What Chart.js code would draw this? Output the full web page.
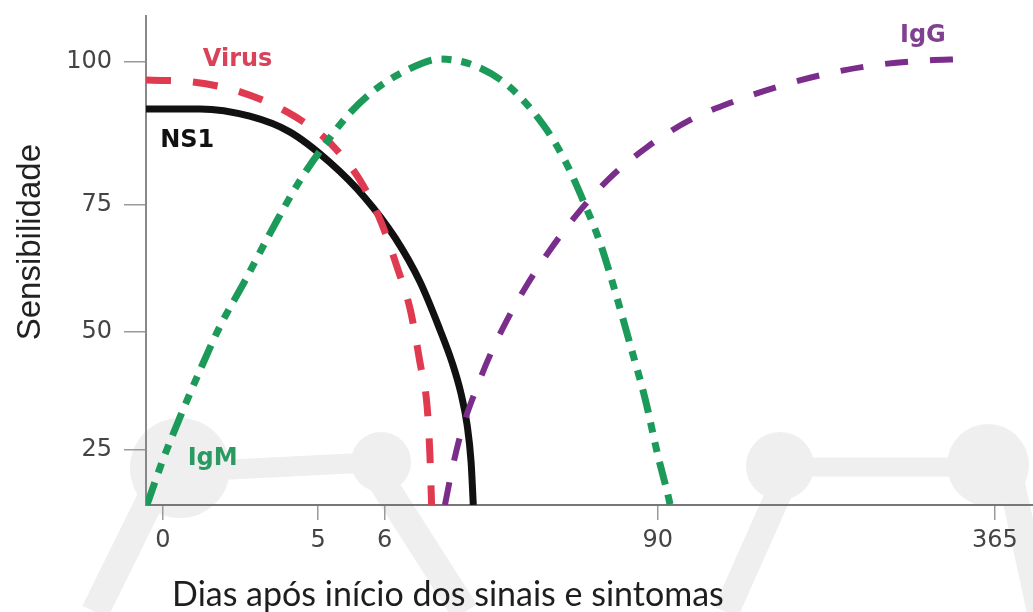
<!DOCTYPE html>
<html>
<head>
<meta charset="utf-8">
<script src="https://cdn.jsdelivr.net/npm/chart.js@4.4.1/dist/chart.umd.min.js"></script>
<style>
  html,body{margin:0;padding:0;background:#fff;}
  #wrap{width:1033px;height:612px;position:relative;}
</style>
</head>
<body>
<div id="wrap"><canvas id="chart"></canvas></div>
<script>
// Axis ticks. The figure is schematic: x and y are positions along the drawn axes (0-100),
// the day / sensitivity labels sit at uneven places on them.
const xTickPos = [1.9, 19.4, 26.9, 57.7, 95.7];
const xTickLabels = ['0', '5', '6', '90', '365'];
const yTickPos = [11.25, 35.4, 61.35, 90.6];
const yTickLabels = ['25', '50', '75', '100'];

// Curves
const ns1X = [0, 6.1, 11.7, 16.2, 20.7, 24.7, 28.1, 30.9, 33.15, 34.5, 35.5, 36.2, 36.65, 36.9];
const ns1Y = [81.0, 81.0, 79.5, 76.3, 70.1, 62.8, 54.6, 45.6, 35.8, 29.2, 22.9, 16.4, 8.8, 0];

const virusX = [0, 5.3, 10.6, 15.9, 20.0, 21.5, 24.1, 26.4, 28.3, 29.8, 30.9, 31.7, 32.0, 32.2];
const virusY = [86.9, 86.5, 84.5, 80.4, 75.3, 72.6, 66.5, 58.3, 48.7, 39.9, 29.0, 20.0, 10.6, 0];

const igmX = [0.1, 1.9, 3.8, 6.1, 8.3, 11.2, 14.5, 17.4, 20.2, 23.0, 25.8, 29.2, 33.15, 37.1, 41.0, 44.8, 47.2, 49.5, 51.2, 52.9, 54.6, 56.3, 57.7, 58.85, 59.1];
const igmY = [0, 9.2, 17.8, 27.6, 36.4, 46.0, 57.3, 66.5, 73.8, 80.2, 84.9, 88.75, 91.2, 89.8, 85.5, 77.7, 70.55, 61.35, 53.6, 43.6, 32.7, 21.5, 10.2, 2.0, 0];

const iggX = [33.7, 34.5, 35.6, 37.1, 38.8, 40.7, 42.95, 45.55, 48.7, 52.3, 56.5, 61.3, 66.4, 71.5, 76.55, 81.6, 86.9, 92.45];
const iggY = [0, 7.2, 15.3, 23.1, 30.7, 37.8, 45.0, 52.15, 59.7, 66.9, 73.2, 78.7, 82.6, 85.7, 88.1, 89.8, 90.8, 91.2];

// Curve labels
const seriesNames = ['Virus', 'NS1', 'IgM', 'IgG'];
const labelColors = ['#d8435a', '#111111', '#2a9a62', '#7f4190'];
const labelAtX = [6.4, 1.6, 4.7, 85.0];
const labelAtY = [89.8, 73.2, 8.2, 94.7];

const pts = (xs, ys) => xs.map((x, i) => ({x: x, y: ys[i]}));

// faint logo watermark behind the plot
const watermark = {
  id: 'watermark',
  beforeDraw(chart) {
    const ctx = chart.ctx;
    ctx.save();
    ctx.fillStyle = '#fff';
    ctx.fillRect(0, 0, chart.width, chart.height);
    ctx.fillStyle = '#efefef';
    ctx.strokeStyle = '#efefef';
    ctx.lineCap = 'butt';
    const bars = [[180, 472, 381, 462, 20], [780, 467, 988, 467, 19], [165, 470, 95, 612, 28],
                  [365, 455, 465, 612, 28], [791, 466, 726, 612, 26], [1008, 465, 1040, 612, 26]];
    for (const b of bars) {
      ctx.lineWidth = b[4];
      ctx.beginPath(); ctx.moveTo(b[0], b[1]); ctx.lineTo(b[2], b[3]); ctx.stroke();
    }
    for (const c of [[180, 468, 50], [381, 462, 30], [780, 466, 34], [988, 465, 41]]) {
      ctx.beginPath(); ctx.arc(c[0], c[1], c[2], 0, Math.PI * 2); ctx.fill();
    }
    ctx.restore();
  }
};

const curveLabels = {
  id: 'curveLabels',
  afterDatasetsDraw(chart) {
    const ctx = chart.ctx, xs = chart.scales.x, ys = chart.scales.y;
    ctx.save();
    ctx.font = 'bold 24px "DejaVu Sans"';
    ctx.textBaseline = 'alphabetic';
    ctx.textAlign = 'left';
    seriesNames.forEach((name, i) => {
      ctx.fillStyle = labelColors[i];
      ctx.fillText(name, xs.getPixelForValue(labelAtX[i]), ys.getPixelForValue(labelAtY[i]));
    });
    ctx.restore();
  }
};

const lineDefaults = {pointRadius: 0, fill: false, cubicInterpolationMode: 'monotone'};

new Chart(document.getElementById('chart'), {
  type: 'line',
  data: {
    datasets: [
      {...lineDefaults, label: 'IgG', data: pts(iggX, iggY), borderColor: '#7b2d8b', borderWidth: 6, borderDash: [23, 22]},
      {...lineDefaults, label: 'IgM', data: pts(igmX, igmY), borderColor: '#1b9a5a', borderWidth: 7, borderDash: [24, 10, 10, 10, 10, 10]},
      {...lineDefaults, label: 'Virus', data: pts(virusX, virusY), borderColor: '#e03a50', borderWidth: 7, borderDash: [25, 22]},
      {...lineDefaults, label: 'NS1', data: pts(ns1X, ns1Y), borderColor: '#111111', borderWidth: 7}
    ]
  },
  options: {
    responsive: true,
    maintainAspectRatio: false,
    animation: false,
    layout: {padding: {top: 16, right: 0, left: 0, bottom: 0}},
    plugins: {legend: {display: false}, tooltip: {enabled: false}},
    scales: {
      x: {
        type: 'linear', min: 0, max: 100,
        afterFit: (s) => { s.height = 107; s.paddingLeft = 0; s.paddingRight = 0; },
        afterBuildTicks: (s) => { s.ticks = xTickPos.map(v => ({value: v})); },
        ticks: {
          callback: (v, i) => xTickLabels[i],
          color: '#444', padding: 6, maxRotation: 0, autoSkip: false,
          font: {family: '"DejaVu Sans"', size: 24}
        },
        grid: {drawOnChartArea: false, drawTicks: true, tickLength: 15, color: '#9a9a9a', lineWidth: 1.5},
        border: {display: true, color: '#777', width: 2},
        title: {
          display: true, text: '   Dias após início dos sinais e sintomas', align: 'start',
          color: '#1e1e1e', padding: {top: 0, bottom: 0},
          font: {family: 'Lato', size: 34, lineHeight: 1}
        }
      },
      y: {
        type: 'linear', min: 0, max: 100,
        afterFit: (s) => { s.width = 146; s.paddingTop = 0; s.paddingBottom = 0; },
        afterBuildTicks: (s) => { s.ticks = yTickPos.map(v => ({value: v})); },
        ticks: {
          callback: (v, i) => yTickLabels[i],
          color: '#444', padding: 12, autoSkip: false,
          font: {family: '"DejaVu Sans"', size: 24}
        },
        grid: {drawOnChartArea: false, drawTicks: true, tickLength: 22, color: '#9a9a9a', lineWidth: 1.5},
        border: {display: true, color: '#888', width: 2},
        title: {
          display: true, text: '    Sensibilidade', color: '#222',
          padding: {top: 11, bottom: 0},
          font: {family: '"Liberation Sans"', size: 33, lineHeight: 1.2}
        }
      }
    }
  },
  plugins: [watermark, curveLabels]
});
</script>
</body>
</html>
